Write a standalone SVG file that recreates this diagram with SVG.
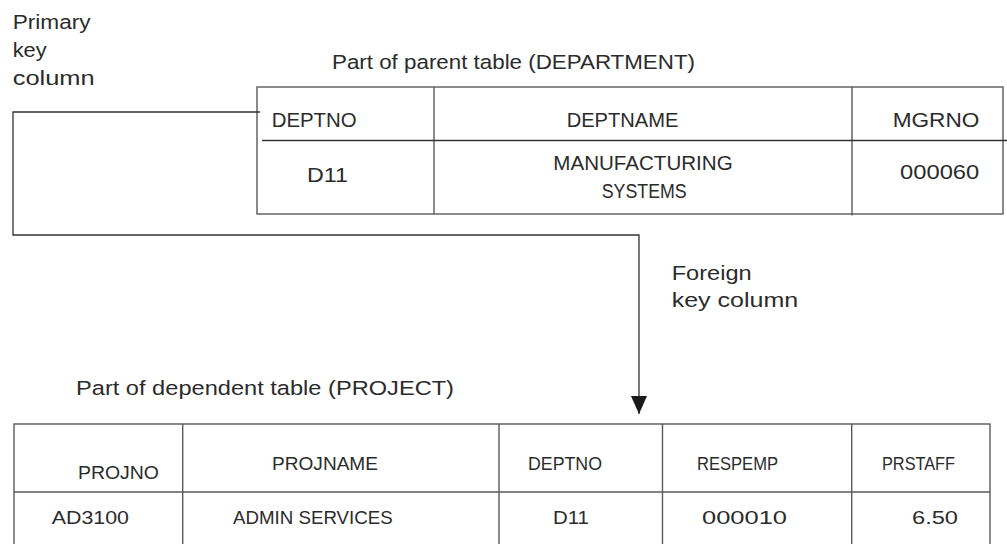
<svg xmlns="http://www.w3.org/2000/svg" width="1007" height="544" viewBox="0 0 1007 544">
  <style>
    text { font-family: "Liberation Sans", Arial, sans-serif; fill: #2b2b2b; }
    .lbl { font-size: 20.5px; }
    .th { font-size: 20.5px; }
    .tb { font-size: 19px; }
    .grid { stroke: #5a5a5a; stroke-width: 1.4; fill: none; }
    .conn { stroke: #333; stroke-width: 1.3; fill: none; }
  </style>
  <defs>
    <marker id="arrow" markerUnits="userSpaceOnUse" markerWidth="18" markerHeight="16" refX="18" refY="8" orient="auto" viewBox="0 0 18 16">
      <path d="M0,0 L18,8 L0,16 Z" fill="#1a1a1a"/>
    </marker>
  </defs>
  <rect width="1007" height="544" fill="#ffffff"/>

  <g id="primary-key-label">
    <text class="lbl" x="12.7" y="28.5" textLength="78" lengthAdjust="spacingAndGlyphs">Primary</text>
    <text class="lbl" x="12.7" y="57" textLength="34" lengthAdjust="spacingAndGlyphs">key</text>
    <text class="lbl" x="12.7" y="85" textLength="82" lengthAdjust="spacingAndGlyphs">column</text>
  </g>

  <g id="parent-caption">
    <text class="lbl" x="332" y="68.5" textLength="363" lengthAdjust="spacingAndGlyphs">Part of parent table (DEPARTMENT)</text>
  </g>

  <g id="parent-table">
    <rect class="grid" x="257" y="87" width="746" height="127"/>
    <line class="grid" x1="434" y1="87" x2="434" y2="214"/>
    <line class="grid" x1="852" y1="87" x2="852" y2="215.5"/>
    <line class="conn" x1="262" y1="140.5" x2="1007" y2="140.5"/>
    <text class="th" x="271.7" y="127" textLength="85" lengthAdjust="spacingAndGlyphs">DEPTNO</text>
    <text class="th" x="566.7" y="127" textLength="111.7" lengthAdjust="spacingAndGlyphs">DEPTNAME</text>
    <text class="th" x="892.7" y="127" textLength="86.7" lengthAdjust="spacingAndGlyphs">MGRNO</text>
    <text class="th" x="307" y="181.7" textLength="41" lengthAdjust="spacingAndGlyphs">D11</text>
    <text class="th" x="553.3" y="170" textLength="179.4" lengthAdjust="spacingAndGlyphs">MANUFACTURING</text>
    <text class="th" x="601.7" y="198.3" textLength="85" lengthAdjust="spacingAndGlyphs">SYSTEMS</text>
    <text class="th" x="900" y="178.5" textLength="79.3" lengthAdjust="spacingAndGlyphs">000060</text>
  </g>

  <g id="connectors">
    <polyline class="conn" points="260,112 13,112 13,235 639,235 639,414" marker-end="url(#arrow)"/>
  </g>

  <g id="foreign-key-label">
    <text class="lbl" x="671.7" y="280" textLength="80" lengthAdjust="spacingAndGlyphs">Foreign</text>
    <text class="lbl" x="671.7" y="307" textLength="126.6" lengthAdjust="spacingAndGlyphs">key column</text>
  </g>

  <g id="dependent-caption">
    <text class="lbl" x="76" y="395" textLength="378" lengthAdjust="spacingAndGlyphs">Part of dependent table (PROJECT)</text>
  </g>

  <g id="dependent-table">
    <rect class="grid" x="14" y="424" width="976" height="140"/>
    <line class="grid" x1="182.7" y1="424" x2="182.7" y2="544"/>
    <line class="grid" x1="499" y1="424" x2="499" y2="544"/>
    <line class="grid" x1="662.5" y1="424" x2="662.5" y2="544"/>
    <line class="grid" x1="851.7" y1="424" x2="851.7" y2="544"/>
    <line class="grid" x1="14" y1="492" x2="990" y2="492"/>
    <text class="tb" x="78" y="479" textLength="81" lengthAdjust="spacingAndGlyphs">PROJNO</text>
    <text class="tb" x="272" y="470" textLength="106" lengthAdjust="spacingAndGlyphs">PROJNAME</text>
    <text class="tb" x="528" y="469.5" textLength="74" lengthAdjust="spacingAndGlyphs">DEPTNO</text>
    <text class="tb" x="697" y="470" textLength="81" lengthAdjust="spacingAndGlyphs">RESPEMP</text>
    <text class="tb" x="882" y="470" textLength="73" lengthAdjust="spacingAndGlyphs">PRSTAFF</text>
    <text class="tb" x="51.7" y="524" textLength="77.3" lengthAdjust="spacingAndGlyphs">AD3100</text>
    <text class="tb" x="233" y="524" textLength="159.7" lengthAdjust="spacingAndGlyphs">ADMIN SERVICES</text>
    <text class="tb" x="553" y="524" textLength="36" lengthAdjust="spacingAndGlyphs">D11</text>
    <text class="tb" x="702" y="524" textLength="85" lengthAdjust="spacingAndGlyphs">000010</text>
    <text class="tb" x="912" y="524" textLength="46" lengthAdjust="spacingAndGlyphs">6.50</text>
  </g>
</svg>
